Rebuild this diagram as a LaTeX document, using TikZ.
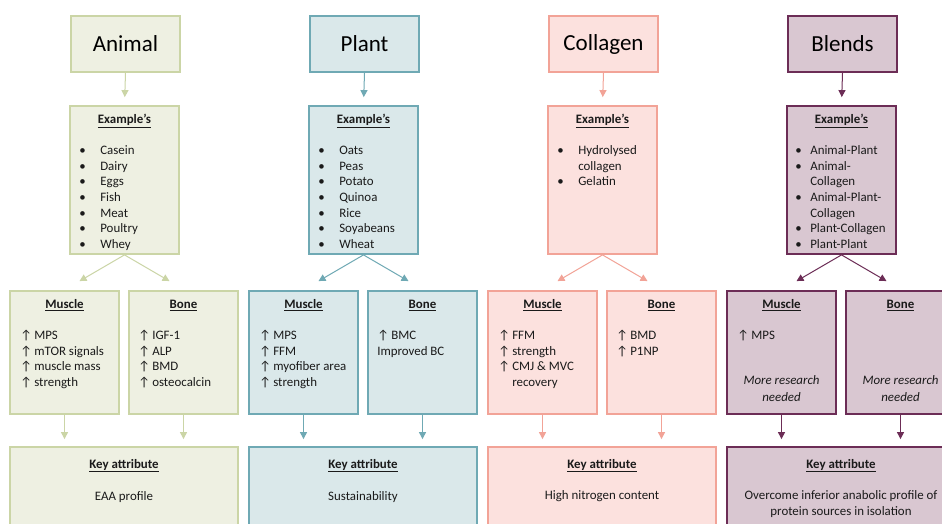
\documentclass[tikz,border=0pt]{standalone}
\usepackage{fontspec}
\setmainfont{Carlito}
\usetikzlibrary{arrows.meta}

\definecolor{anline}{HTML}{CBD5A6}
\definecolor{anfill}{HTML}{EEF0E2}
\definecolor{plline}{HTML}{6FA9B4}
\definecolor{plfill}{HTML}{DAE8EA}
\definecolor{coline}{HTML}{F2A397}
\definecolor{cofill}{HTML}{FCE1DE}
\definecolor{blline}{HTML}{6C2D56}
\definecolor{blfill}{HTML}{D9C7D1}
\definecolor{ink}{HTML}{1A1A1A}

\newcommand{\itm}[2][21pt]{\makebox[#1][l]{\textbullet}#2}
\newcommand{\upp}[1]{\makebox[14pt][l]{↑}#1}
\newcommand{\hd}[1]{\underline{\textbf{#1}}}
\newcommand{\topstrut}{\rule{0pt}{10pt}}

\begin{document}
\begin{tikzpicture}[x=1pt,y=-1pt,
  box/.style 2 args={draw=#1, fill=#2, line width=1.8pt, inner sep=0pt},
  titlebox/.style 2 args={box={#1}{#2}, minimum width=109, minimum height=56, font=\fontsize{23}{26}\selectfont},
  exbox/.style 2 args={box={#1}{#2}, minimum width=109, minimum height=148},
  effbox/.style 2 args={box={#1}{#2}, minimum width=109, minimum height=123},
  keybox/.style 2 args={box={#1}{#2}, minimum width=228, minimum height=93},
  link/.style={draw=#1, line width=1pt, -{Triangle[width=7pt,length=7pt]}},
  hdr/.style={inner sep=0pt, text=ink, font=\fontsize{12.9}{15.7}\selectfont},
  lst/.style={inner sep=0pt, text=ink, anchor=north west, align=left, font=\fontsize{12.9}{15.7}\selectfont},
  txt/.style={inner sep=0pt, text=ink, align=center, font=\fontsize{12.9}{15.7}\selectfont}]
\useasboundingbox (0,0) rectangle (942,524);
\fill[white] (0,0) rectangle (942,524);
\clip (0,0) rectangle (942,524);

% Animal
\node[titlebox={anline}{anfill}] (atitle) at (125.5,44) {Animal};
\node[exbox={anline}{anfill}] (aex) at (124.5,180) {};
\node[hdr] (aexh) at ([yshift=-15.5pt]aex.north) {\hd{Example’s}};
\node[lst] (aexl) at ([xshift=10pt,yshift=-39pt]aex.north west) {\topstrut\itm{Casein}\\\itm{Dairy}\\\itm{Eggs}\\\itm{Fish}\\\itm{Meat}\\\itm{Poultry}\\\itm{Whey}};
\node[effbox={anline}{anfill}] (amus) at (64.5,352.5) {};
\node[hdr] (amush) at ([yshift=-15pt]amus.north) {\hd{Muscle}};
\node[lst] (amusl) at ([xshift=11pt,yshift=-39pt]amus.north west) {\topstrut\upp{MPS}\\\upp{mTOR signals}\\\upp{muscle mass}\\\upp{strength}};
\node[effbox={anline}{anfill}] (abone) at (183.5,352.5) {};
\node[hdr] (aboneh) at ([yshift=-15pt]abone.north) {\hd{Bone}};
\node[lst] (abonel) at ([xshift=10pt,yshift=-39pt]abone.north west) {\topstrut\upp{IGF-1}\\\upp{ALP}\\\upp{BMD}\\\upp{osteocalcin}};
\node[keybox={anline}{anfill}] (akey) at (124,493.5) {};
\node[hdr] (akeyh) at ([yshift=-19.5pt]akey.north) {\hd{Key attribute}};
\node[txt] (akeyt) at ([yshift=-50.5pt]akey.north) {EAA profile};
\draw[link=anline, shorten >=8pt] (atitle.south) -- (aex.north);
\draw[link=anline] (aex.south) -- ([xshift=15pt,yshift=9pt]amus.north);
\draw[link=anline] (aex.south) -- ([xshift=-14pt,yshift=9pt]abone.north);
\draw[link=anline, shorten >=7pt] (amus.south) -- (amus.south |- akey.north);
\draw[link=anline, shorten >=7pt] (abone.south) -- (abone.south |- akey.north);

% Plant
\node[titlebox={plline}{plfill}] (ptitle) at (364.5,44) {Plant};
\node[exbox={plline}{plfill}] (pex) at (363.5,180) {};
\node[hdr] (pexh) at ([yshift=-15.5pt]pex.north) {\hd{Example’s}};
\node[lst] (pexl) at ([xshift=10pt,yshift=-39pt]pex.north west) {\topstrut\itm{Oats}\\\itm{Peas}\\\itm{Potato}\\\itm{Quinoa}\\\itm{Rice}\\\itm{Soyabeans}\\\itm{Wheat}};
\node[effbox={plline}{plfill}] (pmus) at (303.5,352.5) {};
\node[hdr] (pmush) at ([yshift=-15pt]pmus.north) {\hd{Muscle}};
\node[lst] (pmusl) at ([xshift=11pt,yshift=-39pt]pmus.north west) {\topstrut\upp{MPS}\\\upp{FFM}\\\upp{myofiber area}\\\upp{strength}};
\node[effbox={plline}{plfill}] (pbone) at (422.5,352.5) {};
\node[hdr] (pboneh) at ([yshift=-15pt]pbone.north) {\hd{Bone}};
\node[lst] (pbonel) at ([xshift=10pt,yshift=-39pt]pbone.north west) {\topstrut\upp{BMC}\\Improved BC};
\node[keybox={plline}{plfill}] (pkey) at (363,493.5) {};
\node[hdr] (pkeyh) at ([yshift=-19.5pt]pkey.north) {\hd{Key attribute}};
\node[txt] (pkeyt) at ([yshift=-50.5pt]pkey.north) {Sustainability};
\draw[link=plline, shorten >=8pt] (ptitle.south) -- (pex.north);
\draw[link=plline] (pex.south) -- ([xshift=15pt,yshift=9pt]pmus.north);
\draw[link=plline] (pex.south) -- ([xshift=-14pt,yshift=9pt]pbone.north);
\draw[link=plline, shorten >=7pt] (pmus.south) -- (pmus.south |- pkey.north);
\draw[link=plline, shorten >=7pt] (pbone.south) -- (pbone.south |- pkey.north);

% Collagen
\node[titlebox={coline}{cofill}] (ctitle) at (603.5,44) {Collagen};
\node[exbox={coline}{cofill}] (cex) at (602.5,180) {};
\node[hdr] (cexh) at ([yshift=-15.5pt]cex.north) {\hd{Example’s}};
\node[lst] (cexl) at ([xshift=10pt,yshift=-39pt]cex.north west) {\topstrut\itm{Hydrolysed}\\\hspace*{21pt}collagen\\\itm{Gelatin}};
\node[effbox={coline}{cofill}] (cmus) at (542.5,352.5) {};
\node[hdr] (cmush) at ([yshift=-15pt]cmus.north) {\hd{Muscle}};
\node[lst] (cmusl) at ([xshift=11pt,yshift=-39pt]cmus.north west) {\topstrut\upp{FFM}\\\upp{strength}\\\upp{CMJ \& MVC}\\\hspace*{14pt}recovery};
\node[effbox={coline}{cofill}] (cbone) at (661.5,352.5) {};
\node[hdr] (cboneh) at ([yshift=-15pt]cbone.north) {\hd{Bone}};
\node[lst] (cbonel) at ([xshift=10pt,yshift=-39pt]cbone.north west) {\topstrut\upp{BMD}\\\upp{P1NP}};
\node[keybox={coline}{cofill}] (ckey) at (602,493.5) {};
\node[hdr] (ckeyh) at ([yshift=-19.5pt]ckey.north) {\hd{Key attribute}};
\node[txt] (ckeyt) at ([yshift=-50.5pt]ckey.north) {High nitrogen content};
\draw[link=coline, shorten >=8pt] (ctitle.south) -- (cex.north);
\draw[link=coline] (cex.south) -- ([xshift=15pt,yshift=9pt]cmus.north);
\draw[link=coline] (cex.south) -- ([xshift=-14pt,yshift=9pt]cbone.north);
\draw[link=coline, shorten >=7pt] (cmus.south) -- (cmus.south |- ckey.north);
\draw[link=coline, shorten >=7pt] (cbone.south) -- (cbone.south |- ckey.north);

% Blends
\node[titlebox={blline}{blfill}] (btitle) at (842.5,44) {Blends};
\node[exbox={blline}{blfill}] (bex) at (841.5,180) {};
\node[hdr] (bexh) at ([yshift=-15.5pt]bex.north) {\hd{Example’s}};
\node[lst] (bexl) at ([xshift=9pt,yshift=-39pt]bex.north west) {\topstrut\itm[15pt]{Animal-Plant}\\\itm[15pt]{Animal-}\\\hspace*{15pt}Collagen\\\itm[15pt]{Animal-Plant-}\\\hspace*{15pt}Collagen\\\itm[15pt]{Plant-Collagen}\\\itm[15pt]{Plant-Plant}};
\node[effbox={blline}{blfill}] (bmus) at (781.5,352.5) {};
\node[hdr] (bmush) at ([yshift=-15pt]bmus.north) {\hd{Muscle}};
\node[lst] (bmusl) at ([xshift=11pt,yshift=-39pt]bmus.north west) {\topstrut\upp{MPS}};
\node[txt, font=\fontsize{12.9}{16.5}\selectfont\itshape] (bmust) at ([yshift=-98.5pt]bmus.north) {More research\\needed};
\node[effbox={blline}{blfill}] (bbone) at (900.5,352.5) {};
\node[hdr] (bboneh) at ([yshift=-15pt]bbone.north) {\hd{Bone}};
\node[txt, font=\fontsize{12.9}{16.5}\selectfont\itshape] (bbonet) at ([yshift=-98.5pt]bbone.north) {More research\\needed};
\node[keybox={blline}{blfill}] (bkey) at (841,493.5) {};
\node[hdr] (bkeyh) at ([yshift=-19.5pt]bkey.north) {\hd{Key attribute}};
\node[txt] (bkeyt) at ([yshift=-58pt]bkey.north) {Overcome inferior anabolic profile of\\protein sources in isolation};
\draw[link=blline, shorten >=8pt] (btitle.south) -- (bex.north);
\draw[link=blline] (bex.south) -- ([xshift=15pt,yshift=9pt]bmus.north);
\draw[link=blline] (bex.south) -- ([xshift=-14pt,yshift=9pt]bbone.north);
\draw[link=blline, shorten >=7pt] (bmus.south) -- (bmus.south |- bkey.north);
\draw[link=blline, shorten >=7pt] (bbone.south) -- (bbone.south |- bkey.north);
\end{tikzpicture}
\end{document}
